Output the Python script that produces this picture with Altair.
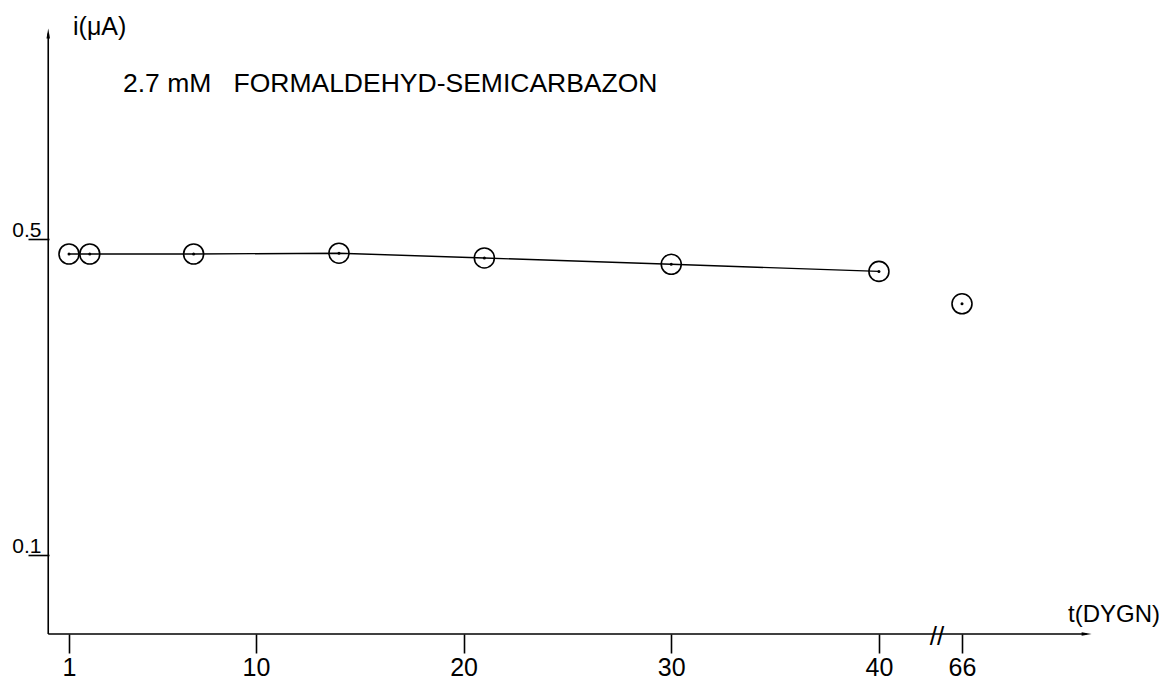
import altair as alt
import pandas as pd

# ---- data ----
days = [1, 2, 7, 14, 21, 30, 40, 66]
current_uA = [0.481, 0.481, 0.481, 0.482, 0.476, 0.468, 0.459, 0.418]
x_ticks = [1, 10, 20, 30, 40, 66]
y_ticks = [0.1, 0.5]

BREAK_FROM = 40      # last day drawn on the continuous part of the axis
BREAK_POS = 44       # axis position used for days beyond the break
BREAK_MARK = 42.6    # where the "//" break sign sits


def axis_pos(d):
    return d if d <= BREAK_FROM else BREAK_POS


df = pd.DataFrame({"day": days, "i": current_uA,
                   "pos": [axis_pos(d) for d in days]})
line_df = df[df["day"] <= BREAK_FROM]

W, H = 1151, 674
xs = alt.Scale(domain=[1, BREAK_POS], range=[61, 954], nice=False, zero=False)
ys = alt.Scale(domain=[0, 0.5], range=[626, 231], nice=False, zero=False)
FONT = "Liberation Sans"

tick_pos = [axis_pos(t) for t in x_ticks]
label_expr = " : ".join(
    [f"datum.value == {p} ? '{t}'" for p, t in zip(tick_pos, x_ticks) if p != t]
    + ["datum.label"])

x_axis = alt.Axis(values=tick_pos, labelExpr=label_expr, offset=626 - H,
                  domain=False, grid=False, tickSize=19, tickWidth=1.6,
                  tickColor="black", labelFontSize=25, labelFont=FONT,
                  labelColor="black", labelPadding=2, title=None,
                  labelFlush=False, labelOverlap=False)
y_axis = alt.Axis(values=y_ticks, format=".1f", offset=-41, domain=False,
                  grid=False, tickSize=21, tickWidth=1.6, tickColor="black",
                  labelFontSize=21, labelFont=FONT, labelColor="black",
                  labelPadding=-13, labelBaseline="alphabetic",
                  labelOffset=-3, title=None)


def X(field):
    return alt.X(field, scale=xs, axis=x_axis)


def Y(field):
    return alt.Y(field, scale=ys, axis=y_axis)


base = alt.Chart(df)

circles = base.mark_point(shape="circle", filled=False, size=400,
                          stroke="black", strokeWidth=1.6, opacity=1).encode(
    x=X("pos:Q"), y=Y("i:Q"))
dots = base.mark_point(shape="circle", filled=True, size=9,
                       color="black", opacity=1).encode(
    x=X("pos:Q"), y=Y("i:Q"))
line = alt.Chart(line_df).mark_line(color="black", strokeWidth=1.4).encode(
    x=X("pos:Q"), y=Y("i:Q"))

# axis lines with arrows
AX_X0, AX_X1 = 0, 50
AX_Y0, AX_Y1 = 0, 0.76
axes_df = pd.DataFrame({"pos": [AX_X0, AX_X0], "pos2": [AX_X1, AX_X0],
                        "i": [AX_Y0, AX_Y0], "i2": [AX_Y0, AX_Y1]})
axis_lines = alt.Chart(axes_df).mark_rule(color="black", strokeWidth=1.6).encode(
    x=X("pos:Q"), x2="pos2:Q", y=Y("i:Q"), y2="i2:Q")
arrow_up = alt.Chart(pd.DataFrame({"pos": [AX_X0], "i": [AX_Y1]})).mark_point(
    shape="M0,-1L0.35,1L-0.35,1Z", filled=True, size=100, color="black",
    opacity=1).encode(x=X("pos:Q"), y=Y("i:Q"))
arrow_right = alt.Chart(pd.DataFrame({"pos": [AX_X1], "i": [AX_Y0]})).mark_point(
    shape="M1,0L-1,-0.35L-1,0.35Z", filled=True, size=100, color="black",
    opacity=1).encode(x=X("pos:Q"), y=Y("i:Q"))
break_sign = alt.Chart(pd.DataFrame({"pos": [BREAK_MARK], "i": [AX_Y0]})).mark_text(
    text="//", font=FONT, fontSize=26, baseline="middle", align="center",
    dy=3, dx=4, color="black").encode(x=X("pos:Q"), y=Y("i:Q"))

# annotations
NB = "\u00a0"
y_title = alt.Chart(pd.DataFrame({"t": ["i(μA)"]})).mark_text(
    font=FONT, fontSize=25, align="left", baseline="alphabetic",
    color="black").encode(text="t:N", x=alt.value(65), y=alt.value(27))
x_title = alt.Chart(pd.DataFrame({"t": ["t(DYGN)"]})).mark_text(
    font=FONT, fontSize=24, align="left", baseline="alphabetic",
    color="black").encode(text="t:N", x=alt.value(1060), y=alt.value(614))
label = alt.Chart(pd.DataFrame({"t": ["2.7 mM" + NB * 3 + "FORMALDEHYD-SEMICARBAZON"]})).mark_text(
    font=FONT, fontSize=26.5, align="left", baseline="alphabetic",
    color="black").encode(text="t:N", x=alt.value(115), y=alt.value(84))

chart = alt.layer(
    axis_lines, arrow_up, arrow_right, break_sign, line, circles, dots,
    y_title, x_title, label,
).properties(
    width=W, height=H, autosize=alt.AutoSizeParams(type="none"), padding=0,
    background="white",
).configure_view(stroke=None)

chart.save("out.html", embed_options={"renderer": "svg", "actions": False})
